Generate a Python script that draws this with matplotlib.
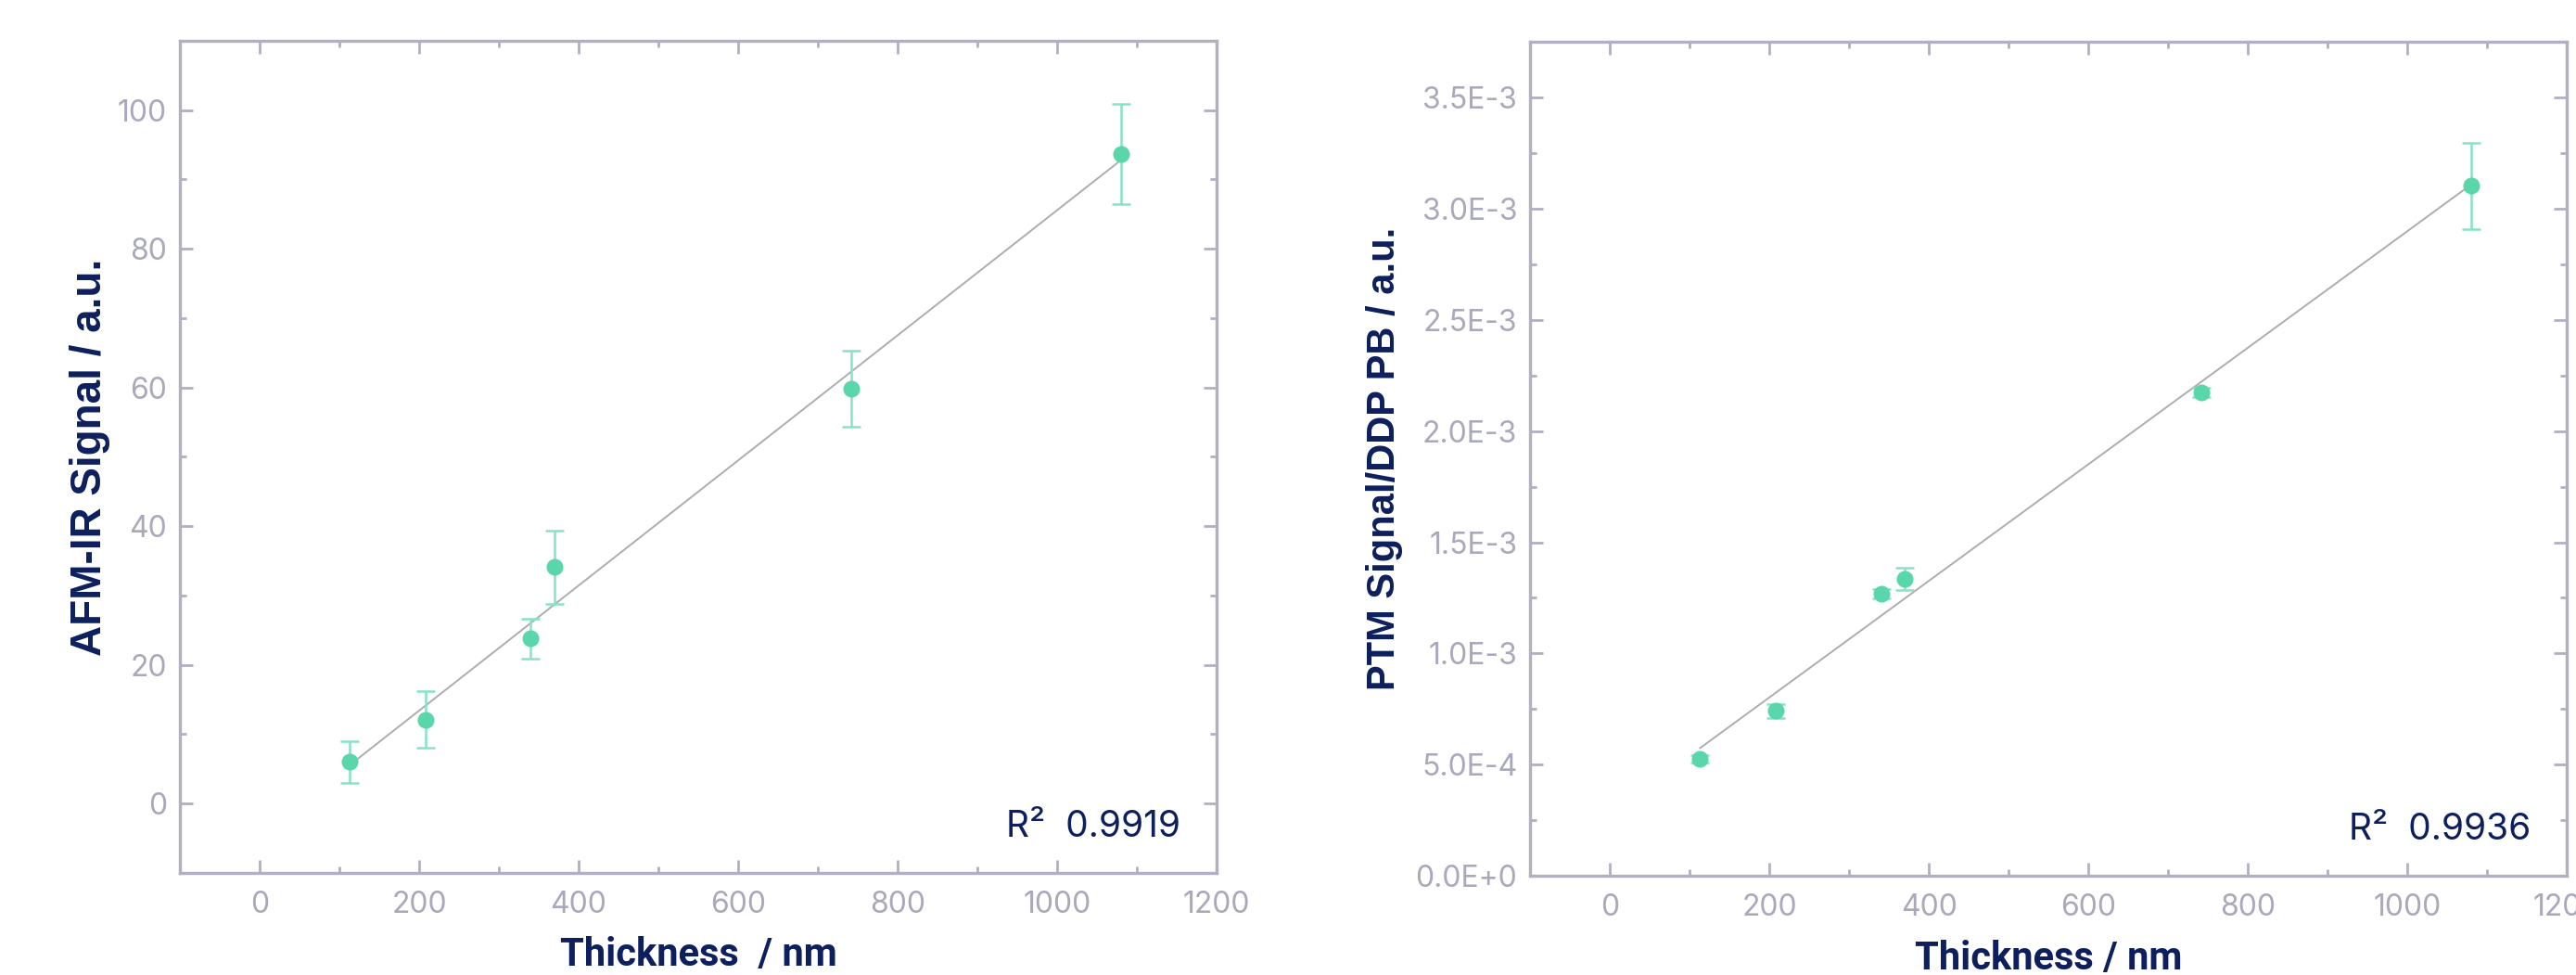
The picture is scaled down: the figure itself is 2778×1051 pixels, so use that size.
import numpy as np
import matplotlib
matplotlib.use("Agg")
import matplotlib.pyplot as plt
from matplotlib.ticker import MultipleLocator, FuncFormatter

# thickness (nm) of the films, shared by both panels
thickness = [113, 208, 340, 370, 742, 1080]

# AFM-IR signal (a.u.) with error bars
afm_signal = [6.0, 12.1, 23.8, 34.1, 59.8, 93.7]
afm_err = [3.0, 4.05, 2.85, 5.3, 5.5, 7.2]
afm_r2 = "0.9919"

# PTM signal / DDP PB (a.u.)
ptm_signal = [0.526e-3, 0.741e-3, 1.269e-3, 1.334e-3, 2.175e-3, 3.103e-3]
ptm_err = [0.015e-3, 0.03e-3, 0.02e-3, 0.05e-3, 0.02e-3, 0.195e-3]
ptm_r2 = "0.9936"

SPINE = "#b0b0c2"
TICKTXT = "#a9a9bb"
NAVY = "#0d1f5c"
MINT = "#5ad6ab"
MINT_ERR = "#86e4c4"
FIT = "#adadad"


def sci_fmt(v, pos):
    if abs(v) < 1e-12:
        return "0.0E+0"
    e = int(np.floor(np.log10(abs(v)) + 1e-9))
    m = v / 10 ** e
    return f"{m:.1f}E{e:+d}" if e >= 0 else f"{m:.1f}E{e}"


def style(ax):
    for s in ax.spines.values():
        s.set_color(SPINE)
        s.set_linewidth(2.4)
    ax.tick_params(which="both", direction="in", top=True, right=True,
                   color=SPINE, labelcolor=TICKTXT, labelsize=23, width=2)
    ax.tick_params(which="major", length=10)
    ax.tick_params(which="minor", length=5)
    ax.tick_params(axis="x", pad=14)
    ax.tick_params(axis="y", pad=10)
    for lab in ax.get_xticklabels() + ax.get_yticklabels():
        lab.set_family("Inter")


fig = plt.figure(figsize=(27.78, 10.51), dpi=100)
ax1 = fig.add_axes([0.0698, 0.1047, 0.4025, 0.8535])
ax2 = fig.add_axes([0.594, 0.1018, 0.4025, 0.855])

panels = [
    (ax1, afm_signal, afm_err, afm_r2, "AFM-IR Signal / a.u.", 33, 6, "Thickness  / nm"),
    (ax2, ptm_signal, ptm_err, ptm_r2, "PTM Signal/DDP PB / a.u.", 30, 10, "Thickness / nm"),
]

x = np.array(thickness, dtype=float)
for ax, y, err, r2, ylab, yfs, ypad, xlab in panels:
    y = np.array(y)
    slope, icpt = np.polyfit(x, y, 1)
    xs = np.array([x.min(), x.max()])
    ax.plot(xs, slope * xs + icpt, color=FIT, lw=1.4, zorder=2)
    ax.errorbar(x, y, yerr=err, fmt="none", ecolor=MINT_ERR, elinewidth=1.8,
                capsize=7, capthick=1.8, zorder=3)
    ax.plot(x, y, "o", color=MINT, ms=13, mec="none", zorder=4)
    ax.set_xlim(-100, 1200)
    ax.xaxis.set_major_locator(MultipleLocator(200))
    ax.xaxis.set_minor_locator(MultipleLocator(100))
    ax.set_xlabel(xlab, fontsize=30, fontweight="bold", color=NAVY,
                  family="Roboto", labelpad=13)
    ax.set_ylabel(ylab, fontsize=yfs, fontweight="bold", color=NAVY,
                  family="Liberation Sans", labelpad=ypad)
    ax.text(0.965, 0.043, "R\u00b2  " + r2, transform=ax.transAxes,
            ha="right", va="baseline", fontsize=28, color=NAVY,
            family=["Inter", "DejaVu Sans"])

ax1.set_ylim(-10, 110)
ax1.yaxis.set_major_locator(MultipleLocator(20))
ax1.yaxis.set_minor_locator(MultipleLocator(10))

ax2.set_ylim(0, 3.75e-3)
ax2.yaxis.set_major_locator(MultipleLocator(0.5e-3))
ax2.yaxis.set_minor_locator(MultipleLocator(0.25e-3))
ax2.yaxis.set_major_formatter(FuncFormatter(sci_fmt))

for ax in (ax1, ax2):
    style(ax)

fig.savefig("out.png", dpi=100)
